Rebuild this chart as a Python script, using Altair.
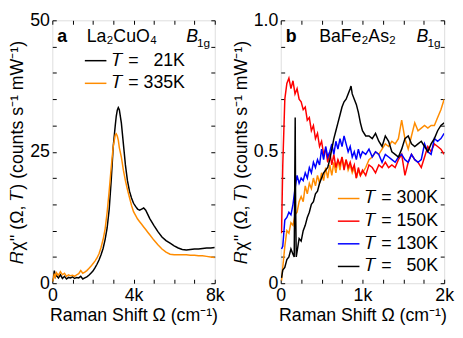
import altair as alt
import pandas as pd

FONT = "Liberation Sans"
FS = 18

# ---------------- Panel a: La2CuO4 ----------------
a_w = [0, 50, 100, 150, 200, 300, 400, 500, 600, 700, 800, 900, 1000, 1100, 1200,
       1300, 1400, 1500, 1600, 1700, 1800, 1900, 2000, 2100, 2200, 2300, 2400, 2500,
       2600, 2700, 2800, 2900, 3000, 3100, 3150, 3200, 3250, 3300, 3400, 3500, 3600,
       3700, 3800, 3900, 4000, 4100, 4200, 4300, 4400, 4500, 4600, 4700, 4800, 5000,
       5200, 5400, 5600, 5800, 6000, 6200, 6400, 6600, 6800, 7000, 7200, 7400, 7600,
       7800, 8000]
a_21K = [0.2, 1.0, 2.4, 1.2, 1.5, 1.0, 1.6, 0.9, 1.3, 0.8, 1.1, 1.0, 1.2, 0.9, 1.1,
         1.0, 1.3, 0.8, 1.0, 1.2, 1.5, 1.9, 2.3, 2.9, 3.6, 4.4, 5.4, 6.6,
         8.3, 10.5, 14.0, 19.5, 26.0, 30.0, 31.8, 32.9, 33.4, 33.0, 30.5, 26.5, 22.5,
         19.5, 17.5, 16.2, 15.2, 14.6, 14.1, 13.9, 14.1, 14.3, 13.9, 13.1, 12.3, 11.0,
         9.8, 8.8, 8.1, 7.6, 7.1, 6.7, 6.4, 6.3, 6.4, 6.5, 6.5, 6.6, 6.7,
         6.7, 6.8]
a_335K = [0.3, 0.8, 1.8, 1.2, 2.0, 1.5, 2.2, 1.6, 1.9, 1.3, 1.6, 1.4, 1.5, 1.3, 1.6,
          1.8, 2.4, 1.9, 2.1, 2.4, 2.8, 3.2, 3.7, 4.2, 4.8, 5.6, 6.8, 8.3,
          10.3, 13.5, 17.5, 22.0, 26.0, 28.2, 28.4, 28.0, 27.2, 25.8, 24.0, 21.5, 19.5,
          17.8, 16.3, 14.8, 13.6, 12.9, 12.2, 11.7, 11.2, 10.7, 10.2, 9.7, 9.2, 8.2,
          7.3, 6.5, 5.9, 5.5, 5.4, 5.4, 5.4, 5.4, 5.3, 5.3, 5.2, 5.2, 5.1,
          5.0, 4.9]
a_labels = ["𝑇 = \u200721K", "𝑇 = 335K"]
a_colors = ["#000000", "#ff8c00"]

# ---------------- Panel b: BaFe2As2 ----------------
b_w = [10, 25, 50, 75, 100, 125, 150, 175, 200, 225, 250, 275, 300, 325, 350, 375,
       400, 425, 450, 475, 500, 525, 550, 575, 600, 625, 650, 675, 700, 725, 750, 775,
       800, 825, 850, 875, 900, 925, 950, 975, 1000, 1040, 1080, 1120, 1160, 1200,
       1240, 1280, 1320, 1360, 1400, 1440, 1480, 1520, 1560, 1600, 1640, 1680, 1720,
       1760, 1800, 1840, 1880, 1920, 1960, 2000]
b_300K = [0.01, 0.06, 0.14, 0.20, 0.19, 0.23, 0.22, 0.26, 0.27, 0.31, 0.33, 0.31, 0.37,
          0.34, 0.38, 0.36, 0.40, 0.37, 0.41, 0.38, 0.42, 0.39, 0.44, 0.40, 0.45, 0.41,
          0.46, 0.42, 0.47, 0.43, 0.48, 0.44, 0.47, 0.43, 0.45, 0.42, 0.44, 0.40, 0.43,
          0.41, 0.42, 0.44, 0.47, 0.48, 0.50, 0.49, 0.51, 0.53, 0.52, 0.54, 0.53, 0.55,
          0.62, 0.55, 0.51, 0.56, 0.61, 0.58, 0.59, 0.60, 0.59, 0.60, 0.60, 0.63, 0.66,
          0.70]
b_150K = [0.19, 0.45, 0.70, 0.76, 0.78, 0.74, 0.77, 0.72, 0.74, 0.70, 0.69, 0.66, 0.67,
          0.62, 0.63, 0.58, 0.60, 0.55, 0.57, 0.52, 0.54, 0.49, 0.51, 0.46, 0.50, 0.45,
          0.49, 0.44, 0.47, 0.45, 0.48, 0.43, 0.47, 0.44, 0.46, 0.43, 0.45, 0.40, 0.44,
          0.41, 0.43, 0.41, 0.45, 0.44, 0.42, 0.45, 0.44, 0.46, 0.44, 0.45, 0.44, 0.47,
          0.49, 0.41, 0.46, 0.49, 0.47, 0.46, 0.44, 0.48, 0.52, 0.50, 0.53, 0.52, 0.51,
          0.49]
b_130K = [0.13, 0.14, 0.24, 0.25, 0.27, 0.26, 0.30, 0.36, 0.41, 0.38, 0.40, 0.39, 0.42,
          0.40, 0.44, 0.42, 0.46, 0.44, 0.47, 0.45, 0.51, 0.47, 0.52, 0.48, 0.50, 0.53,
          0.49, 0.54, 0.51, 0.55, 0.52, 0.56, 0.53, 0.50, 0.52, 0.48, 0.50, 0.47, 0.51,
          0.48, 0.50, 0.49, 0.51, 0.48, 0.50, 0.49, 0.46, 0.49, 0.48, 0.47, 0.46, 0.48,
          0.49, 0.47, 0.46, 0.49, 0.47, 0.46, 0.47, 0.53, 0.50, 0.49, 0.55, 0.54, 0.55,
          0.57]
b50_w = [10, 25, 50, 75, 100, 125, 150, 165, 172, 177, 182, 190, 200, 225, 250, 275,
         300, 325, 350, 375, 400, 425, 450, 475, 500, 525, 550, 575, 600, 625, 650, 675,
         700, 725, 750, 775, 800, 825, 850, 860, 875, 900, 925, 950, 975, 1000, 1040,
         1080, 1120, 1160, 1200, 1240, 1280, 1320, 1360, 1400, 1440, 1480, 1520, 1560,
         1600, 1640, 1680, 1720, 1760, 1800, 1840, 1880, 1920, 1960, 2000]
b_50K = [0.02, 0.05, 0.06, 0.09, 0.10, 0.13, 0.11, 0.10, 0.40, 0.63, 0.30, 0.10, 0.12,
         0.17, 0.16, 0.20, 0.22, 0.25, 0.27, 0.30, 0.31, 0.34, 0.35, 0.38, 0.40, 0.42,
         0.43, 0.44, 0.47, 0.51, 0.55, 0.58, 0.61, 0.64, 0.67, 0.69, 0.70, 0.72, 0.74,
         0.75, 0.72, 0.70, 0.68, 0.65, 0.61, 0.58, 0.56, 0.56, 0.55, 0.57, 0.54, 0.52,
         0.56, 0.54, 0.50, 0.49, 0.48, 0.51, 0.55, 0.56, 0.53, 0.52, 0.53, 0.54, 0.52,
         0.50, 0.53, 0.55, 0.58, 0.60, 0.61]
b_labels = ["𝑇 = 300K", "𝑇 = 150K", "𝑇 = 130K", "𝑇 = \u200750K"]
b_colors = ["#ff8c00", "#ff0000", "#0000ff", "#000000"]

# ---------------- tables ----------------
dfa = pd.concat([
    pd.DataFrame({"wa": a_w, "ia": a_21K, "Ta": a_labels[0]}),
    pd.DataFrame({"wa": a_w, "ia": a_335K, "Ta": a_labels[1]}),
])
dfb = pd.concat([
    pd.DataFrame({"wb": b_w, "ib": b_300K, "Tb": b_labels[0]}),
    pd.DataFrame({"wb": b_w, "ib": b_150K, "Tb": b_labels[1]}),
    pd.DataFrame({"wb": b_w, "ib": b_130K, "Tb": b_labels[2]}),
    pd.DataFrame({"wb": b50_w, "ib": b_50K, "Tb": b_labels[3]}),
])

YTITLE = "𝑅χ'' (Ω, 𝑇) (counts s⁻¹ mW⁻¹)"
XTITLE = "Raman Shift Ω (cm⁻¹)"

TICK = dict(tickSize=4, offset=-4, domain=False, grid=False, tickColor="black",
            tickWidth=1, labelFont=FONT, labelFontSize=FS, labelColor="black",
            titleFont=FONT, titleFontSize=FS, titleFontWeight="normal", titleColor="black")


def panel(df, xf, yf, cf, xdom, ydom, xvals, yvals, xlab, ylab, labels, colors,
          lx, ly, W, H, letter, compound, bpos):
    xs = alt.Scale(domain=xdom, nice=False, zero=False)
    ys = alt.Scale(domain=ydom, nice=False, zero=False)
    lines = alt.Chart(df).mark_line(strokeWidth=1.5, clip=True).encode(
        x=alt.X(f"{xf}:Q", scale=xs,
                axis=alt.Axis(orient="bottom", values=xvals, labelExpr=xlab,
                              title=XTITLE, labelPadding=4, titlePadding=2,
                              labelFlush=False, labelOverlap=False, **TICK)),
        y=alt.Y(f"{yf}:Q", scale=ys,
                axis=alt.Axis(orient="left", values=yvals, labelExpr=ylab,
                              title=YTITLE, labelPadding=3, titlePadding=3,
                              labelFlush=False, labelOverlap=False, **TICK)),
        color=alt.Color(f"{cf}:N", scale=alt.Scale(domain=labels, range=colors),
                        legend=alt.Legend(orient="none", legendX=lx, legendY=ly,
                                          title=None, symbolType="stroke",
                                          symbolSize=480, symbolStrokeWidth=1.5,
                                          labelFont=FONT, labelFontSize=FS,
                                          labelColor="black", labelOffset=5,
                                          rowPadding=2, padding=0)),
        order=alt.Order("idx:Q"),
    ).transform_window(idx="row_number()")
    mirror = alt.Chart(df).mark_point(opacity=0).encode(
        x=alt.X(f"{xf}:Q", scale=xs,
                axis=alt.Axis(orient="top", values=xvals, labels=False, title=None, **TICK)),
        y=alt.Y(f"{yf}:Q", scale=ys,
                axis=alt.Axis(orient="right", values=yvals, labels=False, title=None, **TICK)),
    )
    base = alt.Chart(pd.DataFrame({"k": [0]}))
    t_letter = base.mark_text(text=letter, font=FONT, fontSize=FS, fontWeight="bold",
                              align="left", baseline="middle").encode(
        x=alt.value(5), y=alt.value(17))
    t_comp = base.mark_text(text=compound, font=FONT, fontSize=FS,
                            align="left", baseline="middle").encode(
        x=alt.value(bpos[0]), y=alt.value(17))
    t_b = base.mark_text(text="B", font=FONT, fontSize=FS, fontStyle="italic",
                         align="left", baseline="middle").encode(
        x=alt.value(bpos[1]), y=alt.value(17))
    t_sub = base.mark_text(text="1g", font=FONT, fontSize=12,
                           align="left", baseline="middle").encode(
        x=alt.value(bpos[1] + 11), y=alt.value(23))
    return alt.layer(lines, mirror, t_letter, t_comp, t_b, t_sub).resolve_axis(
        x="independent", y="independent").properties(width=W, height=H)


pa = panel(dfa, "wa", "ia", "Ta", [0, 8000], [0, 50],
           list(range(0, 8001, 1000)), list(range(0, 51, 5)),
           "datum.value == 0 ? '0' : (datum.value % 4000 == 0 ? (datum.value / 1000) + 'k' : '')",
           "datum.value % 25 == 0 ? datum.label : ''",
           a_labels, a_colors, 32, 29, 165, 267, "a", "La₂CuO₄", (35, 136))

pb = panel(dfb, "wb", "ib", "Tb", [0, 2000], [0, 1.0],
           list(range(0, 2001, 250)), [0, 0.1, 0.2, 0.3, 0.4, 0.5, 0.6, 0.7, 0.8, 0.9, 1.0],
           "datum.value == 0 ? '0' : (datum.value % 1000 == 0 ? (datum.value / 1000) + 'k' : '')",
           "datum.value == 0 ? '0' : (datum.value == 0.5 ? '0.5' : (datum.value == 1 ? '1.0' : ''))",
           b_labels, b_colors, 57, 169, 166, 267, "b", "BaFe₂As₂", (39, 138))

chart = alt.hconcat(pa, pb, spacing=6).resolve_scale(color="independent").properties(
    padding=0).configure_view(stroke="black", strokeWidth=1).configure(background="white")

chart.save("out.html", embed_options={"renderer": "svg", "actions": False})
